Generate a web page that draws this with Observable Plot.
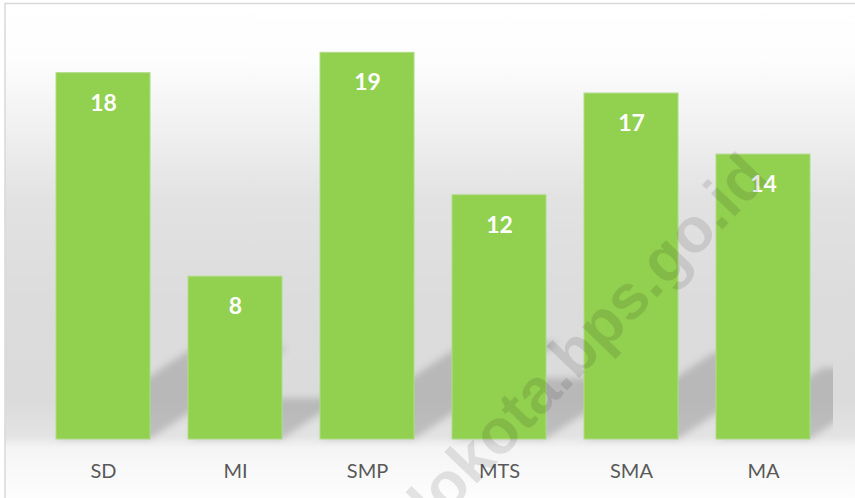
<!DOCTYPE html>
<html>
<head>
<meta charset="utf-8">
<script src="https://cdn.jsdelivr.net/npm/d3@7"></script>
<script src="https://cdn.jsdelivr.net/npm/@observablehq/plot@0.6"></script>
<style>
  html, body { margin: 0; padding: 0; background: #ffffff; }
  #chart svg { display: block; }
</style>
</head>
<body>
<div id="chart"></div>
<script>
// ---- Data ----
const categories = ["SD", "MI", "SMP", "MTS", "SMA", "MA"];
const values = [18, 8, 19, 12, 17, 14];
const watermarkText = ["gorontalokota.bps.go.id"];

const data = categories.map((c, i) => ({ category: c, value: values[i] }));

const SHADOW_RATIO = 0.25;

const chart = Plot.plot({
  width: 855,
  height: 498,
  marginLeft: 35,
  marginRight: 25,
  marginTop: 32,
  marginBottom: 59,
  style: { fontFamily: "Lato, 'Open Sans', sans-serif", background: "transparent", overflow: "visible" },
  x: { domain: categories, paddingInner: 0.29, paddingOuter: 0.145, label: null },
  y: { domain: [0, 20], axis: null },
  marks: [
    // perspective shadow (skewed after render)
    Plot.barY(data, { x: "category", y: d => d.value * SHADOW_RATIO, fill: "#000", fillOpacity: 0.16 }),
    Plot.barY(data, { x: "category", y: "value", fill: "#92D050", stroke: "#afdb85", strokeWidth: 1 }),
    Plot.text(data, {
      x: "category", y: "value", text: d => String(d.value),
      dy: 30, fill: "white", fontWeight: "bold", fontSize: 23
    }),
    Plot.axisX({ tickSize: 0, tickPadding: 24, fontSize: 20, color: "#595959", fill: "#595959", label: null }),
    Plot.text(watermarkText, {
      text: d => d, frameAnchor: "top-left", dx: 703, dy: 116, rotate: -46,
      textAnchor: "end", fontSize: 63, fontWeight: "bold",
      fontFamily: "'Liberation Sans', Arial, sans-serif", fill: "#000", fillOpacity: 0.1
    })
  ]
});

document.getElementById("chart").appendChild(chart);

// ---- Decoration: background gradient, frame, shadow skew/blur ----
const svg = d3.select(chart);
const defs = svg.insert("defs", ":first-child");
const grad = defs.append("linearGradient")
  .attr("id", "bgGrad").attr("gradientUnits", "userSpaceOnUse")
  .attr("x1", 0).attr("y1", 3).attr("x2", 0).attr("y2", 498);
[[3, "#ffffff"], [60, "#fdfdfd"], [120, "#f2f2f2"], [200, "#e2e2e2"], [300, "#dcdcdc"],
 [400, "#dbdbdb"], [436, "#e3e3e3"], [448, "#f5f5f5"], [498, "#fdfdfd"]]
  .forEach(([y, c]) => grad.append("stop").attr("offset", ((y - 3) / 495 * 100) + "%").attr("stop-color", c));

const blur = defs.append("filter").attr("id", "shadowBlur")
  .attr("x", "-20%").attr("y", "-20%").attr("width", "140%").attr("height", "140%");
blur.append("feGaussianBlur").attr("stdDeviation", 3.5);

defs.append("clipPath").attr("id", "plotClip")
  .append("rect").attr("x", 0).attr("y", 0).attr("width", 833).attr("height", 498);

svg.insert("rect", "defs + *")
  .attr("x", 5).attr("y", 3.5).attr("width", 880).attr("height", 520)
  .attr("fill", "url(#bgGrad)").attr("stroke", "#d9d9d9").attr("stroke-width", 1.5);

const yScale = chart.scale("y");
const base = yScale.apply(0);
const bars = chart.querySelectorAll('g[aria-label="bar"]');
const shadowG = bars[0];
const outer = document.createElementNS("http://www.w3.org/2000/svg", "g");
outer.setAttribute("clip-path", "url(#plotClip)");
const mid = document.createElementNS("http://www.w3.org/2000/svg", "g");
mid.setAttribute("filter", "url(#shadowBlur)");
shadowG.parentNode.insertBefore(outer, shadowG);
outer.appendChild(mid);
mid.appendChild(shadowG);
const skew = -Math.atan(1.5) * 180 / Math.PI;
shadowG.setAttribute("transform", `translate(0,${base}) skewX(${skew}) translate(0,${-base})`);
</script>
</body>
</html>
